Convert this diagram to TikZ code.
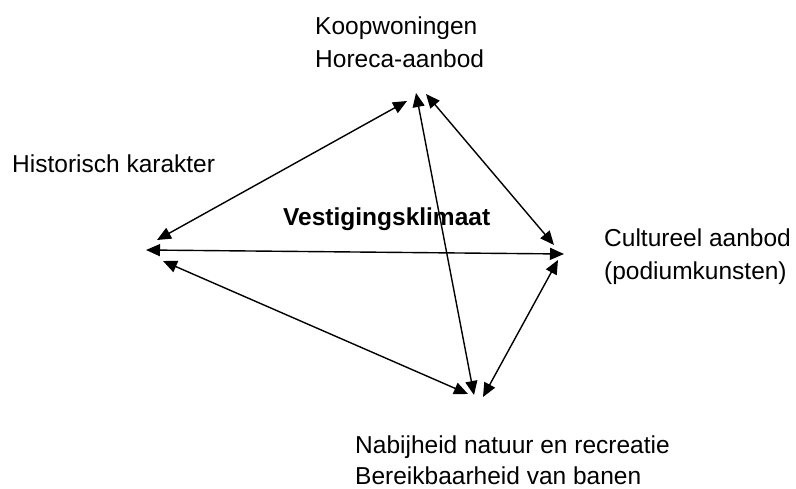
\documentclass[tikz,border=0pt]{standalone}
\usepackage{fontspec}
\setmainfont{Liberation Sans}
\usetikzlibrary{arrows.meta}
\begin{document}
\begin{tikzpicture}[x=1pt,y=-1pt,
  lbl/.style={anchor=base west,inner sep=0pt,font=\fontsize{24.5}{33}\selectfont},
  link/.style={line width=1.4pt,{Triangle[length=14pt,width=12pt]}-{Triangle[length=14pt,width=12pt]}}]
\useasboundingbox (0,0) rectangle (796,489);
% labels
\node[lbl] (kw) at (315,35) {Koopwoningen};
\node[lbl] (ho) at (315,68) {Horeca-aanbod};
\node[lbl] (hk) at (12,173) {Historisch karakter};
\node[lbl,font=\fontsize{24.5}{33}\selectfont\bfseries] (vk) at (283,226) {Vestigingsklimaat};
\node[lbl] (ca) at (604,247) {Cultureel aanbod};
\node[lbl] (pk) at (604,280) {(podiumkunsten)};
\node[lbl] (nn) at (355,453) {Nabijheid natuur en recreatie};
\node[lbl] (bb) at (355,484) {Bereikbaarheid van banen};
% connector ends
\coordinate (t1) at (407,101);
\coordinate (t2) at (416,93);
\coordinate (t3) at (426,94);
\coordinate (l1) at (157,240);
\coordinate (l2) at (146,250);
\coordinate (l3) at (163,261);
\coordinate (r1) at (554,245);
\coordinate (r2) at (564,254);
\coordinate (r3) at (558,260);
\coordinate (b1) at (468,394);
\coordinate (b2) at (474,395);
\coordinate (b3) at (483,397);
% connectors
\draw[link] (t1) -- (l1);
\draw[link] (t2) -- (b2);
\draw[link] (t3) -- (r1);
\draw[link] (l2) -- (r2);
\draw[link] (l3) -- (b1);
\draw[link] (r3) -- (b3);
\end{tikzpicture}
\end{document}
